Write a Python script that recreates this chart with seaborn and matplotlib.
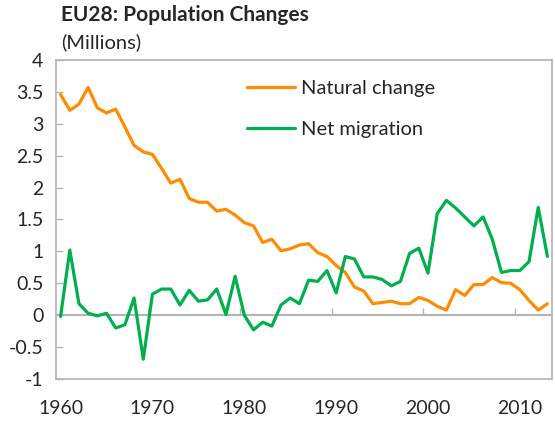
import pandas as pd
import seaborn as sns
import numpy as np
import matplotlib.pyplot as plt

# EU28 population changes, millions, 1960-2013
years = list(range(1960, 2014))
natural_change = [
    3.46, 3.21, 3.31, 3.57, 3.25, 3.17, 3.23, 2.95, 2.66, 2.56,
    2.52, 2.30, 2.07, 2.13, 1.83, 1.77, 1.77, 1.63, 1.66, 1.57,
    1.45, 1.40, 1.14, 1.19, 1.01, 1.04, 1.10, 1.12, 0.98, 0.92,
    0.78, 0.67, 0.44, 0.38, 0.18, 0.20, 0.22, 0.18, 0.18, 0.28,
    0.23, 0.14, 0.08, 0.40, 0.31, 0.48, 0.48, 0.59, 0.51, 0.50,
    0.40, 0.23, 0.08, 0.18,
]
net_migration = [
    -0.02, 1.02, 0.18, 0.03, -0.01, 0.03, -0.20, -0.15, 0.27, -0.69,
    0.33, 0.41, 0.41, 0.16, 0.39, 0.22, 0.24, 0.41, 0.01, 0.61,
    0.00, -0.23, -0.11, -0.17, 0.16, 0.27, 0.18, 0.55, 0.53, 0.70,
    0.35, 0.92, 0.88, 0.60, 0.60, 0.56, 0.46, 0.53, 0.97, 1.05,
    0.66, 1.59, 1.80, 1.68, 1.54, 1.40, 1.54, 1.19, 0.67, 0.70,
    0.70, 0.84, 1.69, 0.92,
]
year_labels = [1960, 1970, 1980, 1990, 2000, 2010]
decade_ticks = [1969.5, 1979.5, 1989.5, 1999.5, 2009.5]

df = pd.DataFrame({'ano': years, 'natural': natural_change, 'migracao': net_migration})

sns.set_theme(style='white')
plt.rcParams['font.family'] = ['Lato', 'DejaVu Sans']
plt.rcParams['axes.unicode_minus'] = False

cinza = '#B3B3B3'
fig = plt.figure(figsize=(5.55, 4.23), dpi=100)
ax = fig.add_axes([0.1009, 0.104, 0.8937, 0.7542])

sns.lineplot(data=df, x='ano', y='natural', color='#FF8C00', lw=2.3,
             label='Natural change', ax=ax)
sns.lineplot(data=df, x='ano', y='migracao', color='#00B04F', lw=2.3,
             label='Net migration', ax=ax)

ax.set_xlim(1959.5, 2013.5)
ax.set_ylim(-1, 4)
ax.set_yticks(np.arange(-1, 4.01, 0.5))
ax.set_yticklabels([f'{v:g}' for v in np.arange(-1, 4.01, 0.5)])
ax.set_xticks(year_labels)
ax.set_xlabel('')
ax.set_ylabel('')
ax.tick_params(axis='y', direction='in', length=5, width=1, color=cinza,
               labelsize=14, pad=9, left=True)
ax.tick_params(axis='x', length=0, labelsize=14, pad=15)
for s in ax.spines.values():
    s.set_color(cinza)
    s.set_linewidth(1.2)

# eixo na linha do zero, com marcas entre as decadas
zero = ax.secondary_xaxis(0, transform=ax.transData)
zero.set_xticks(decade_ticks)
zero.set_xticklabels([''] * len(decade_ticks))
zero.tick_params(direction='in', length=5, width=1, color=cinza)
zero.spines['bottom'].set_color(cinza)
zero.spines['bottom'].set_linewidth(1.5)

ax.legend(loc='upper left', bbox_to_anchor=(0.385, 0.936), frameon=False,
          fontsize=14.5, handlelength=2.4, handletextpad=0.28,
          labelspacing=1.15, borderpad=0, borderaxespad=0)

fig.text(0.11, 0.965, 'EU28: Population Changes', fontsize=15,
         fontweight='bold', va='center', ha='left')
fig.text(0.11, 0.9, '(Millions)', fontsize=14.5, va='center', ha='left')

plt.savefig('out.png', dpi=100)
